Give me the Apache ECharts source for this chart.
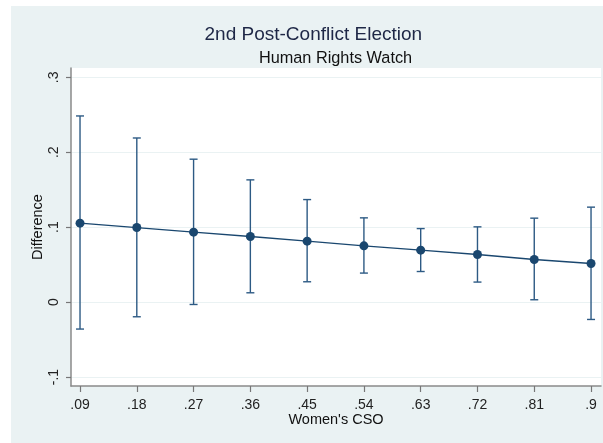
<!DOCTYPE html>
<html><head><meta charset="utf-8">
<script src="https://cdn.jsdelivr.net/npm/echarts@6/dist/echarts.min.js"></script>
<style>
html,body{margin:0;padding:0;background:#fff;}
#wrap{position:relative;width:603px;height:443px;overflow:hidden;background:#fff;}
#bg{position:absolute;left:11px;top:6px;right:0;bottom:0;background:#eaf2f3;}
#chart{position:absolute;left:0;top:0;width:603px;height:443px;}
</style></head><body>
<div id="wrap"><div id="bg"></div><div id="chart"></div></div>
<script>
const xValues = [0.09, 0.18, 0.27, 0.36, 0.45, 0.54, 0.63, 0.72, 0.81, 0.90];
const estimates = [0.1053, 0.0995, 0.0933, 0.0875, 0.0813, 0.0751, 0.0693, 0.0635, 0.0568, 0.0515];
const ciLower = [-0.0360, -0.0196, -0.0032, 0.0124, 0.0271, 0.0387, 0.0408, 0.0267, 0.0031, -0.0232];
const ciUpper = [0.2484, 0.2190, 0.1907, 0.1631, 0.1368, 0.1124, 0.0981, 0.1004, 0.1120, 0.1267];
const xTicks = [0.09, 0.18, 0.27, 0.36, 0.45, 0.54, 0.63, 0.72, 0.81, 0.90];
const yTicks = [-0.1, 0, 0.1, 0.2, 0.3];
const titleText = '2nd Post-Conflict Election';
const subtitleText = 'Human Rights Watch';
const xName = "Women's CSO";
const yName = 'Difference';

function fmt(v) {
  let s = String(+Number(v).toFixed(2));
  return s.replace(/^0\./, '.').replace(/^-0\./, '-.');
}

const navy = '#1a476f';
const font = '"Liberation Sans", Arial, sans-serif';

const chart = echarts.init(document.getElementById('chart'), null, {renderer: 'canvas'});
chart.setOption({
  backgroundColor: 'transparent',
  animation: false,
  graphic: [
    {type: 'text', x: 313.3, y: 34.3, style: {text: titleText, fontFamily: font, fontSize: 19, fill: '#1e2746', textAlign: 'center', textVerticalAlign: 'middle'}},
    {type: 'text', x: 335.5, y: 58.3, style: {text: subtitleText, fontFamily: font, fontSize: 16.3, fill: '#111', textAlign: 'center', textVerticalAlign: 'middle'}}
  ],
  grid: {left: 71, top: 68, right: 2, bottom: 57, show: true, backgroundColor: '#fff', borderWidth: 0, containLabel: false},
  xAxis: {
    type: 'value', min: 0.0757, max: 0.9158,
    name: xName, nameLocation: 'middle', nameGap: 26.4, nameMoveOverlap: false,
    nameTextStyle: {fontFamily: font, fontSize: 14.5, color: '#111'},
    axisLine: {show: true, onZero: false, lineStyle: {color: '#8a8a8a', width: 1.5}},
    axisTick: {show: true, length: 6, customValues: xTicks, lineStyle: {color: '#777', width: 1.2}},
    axisLabel: {customValues: xTicks, formatter: fmt, margin: 12, fontFamily: font, fontSize: 14, color: '#222'},
    splitLine: {show: false}
  },
  yAxis: {
    type: 'value', min: -0.112, max: 0.3124,
    name: yName, nameLocation: 'middle', nameGap: 26, nameRotate: 90, nameMoveOverlap: false,
    nameTextStyle: {fontFamily: font, fontSize: 14.5, color: '#111'},
    axisLine: {show: true, onZero: false, lineStyle: {color: '#8a8a8a', width: 1.5}},
    axisTick: {show: true, length: 5, customValues: yTicks, lineStyle: {color: '#777', width: 1.2}},
    axisLabel: {customValues: yTicks, formatter: fmt, rotate: 90, margin: 10, fontFamily: font, fontSize: 14, color: '#222'},
    splitLine: {show: true, lineStyle: {color: '#eaf2f3', width: 1.2}}
  },
  series: [
    {
      type: 'custom',
      z: 2,
      data: xValues.map((x, i) => [x, ciLower[i], ciUpper[i]]),
      renderItem: function (params, api) {
        const x = api.value(0);
        const lo = api.coord([x, api.value(1)]);
        const hi = api.coord([x, api.value(2)]);
        const hw = 4;
        const st = {stroke: '#2d5a84', lineWidth: 1.4};
        return {type: 'group', children: [
          {type: 'line', shape: {x1: lo[0], y1: lo[1], x2: hi[0], y2: hi[1]}, style: st},
          {type: 'line', shape: {x1: lo[0] - hw, y1: lo[1], x2: lo[0] + hw, y2: lo[1]}, style: st},
          {type: 'line', shape: {x1: hi[0] - hw, y1: hi[1], x2: hi[0] + hw, y2: hi[1]}, style: st}
        ]};
      }
    },
    {
      type: 'line', z: 3,
      data: xValues.map((x, i) => [x, estimates[i]]),
      symbol: 'circle', symbolSize: 9,
      lineStyle: {color: navy, width: 1.3},
      itemStyle: {color: navy}
    }
  ]
});
</script></body></html>
